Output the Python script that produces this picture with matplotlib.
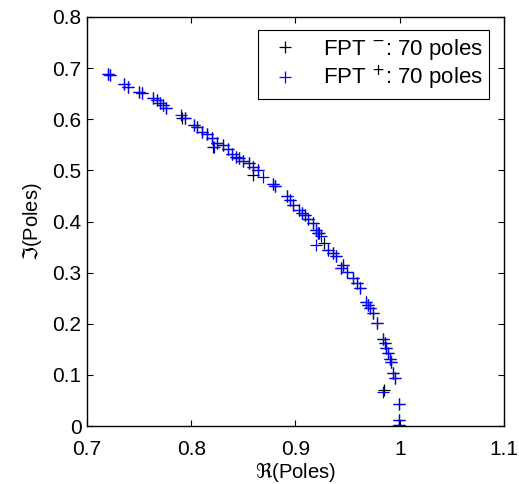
import numpy as np
import matplotlib
matplotlib.use("Agg")
import matplotlib.pyplot as plt

plt.rcParams['font.family'] = ['Liberation Sans', 'DejaVu Sans']
plt.rcParams['mathtext.fontset'] = 'dejavusans'

plus_re = [0.720, 0.722, 0.7355, 0.739, 0.750, 0.753, 0.763, 0.767, 0.770,
           0.773, 0.776, 0.790, 0.794, 0.803, 0.806, 0.810, 0.815, 0.820,
           0.822, 0.825, 0.830, 0.835, 0.839, 0.843, 0.846, 0.850, 0.855,
           0.859, 0.864, 0.869, 0.878, 0.880, 0.892, 0.895, 0.898, 0.903,
           0.906, 0.909, 0.912, 0.917, 0.920, 0.922, 0.924, 0.920, 0.931,
           0.936, 0.939, 0.946, 0.944, 0.949, 0.955, 0.959, 0.962, 0.968,
           0.970, 0.971, 0.974, 0.978, 0.984, 0.986, 0.987, 0.989, 0.991,
           0.992, 0.994, 0.995, 0.984, 0.999, 0.999, 0.9996]
plus_im = [0.689, 0.686, 0.669, 0.664, 0.654, 0.652, 0.642, 0.637, 0.632,
           0.628, 0.622, 0.609, 0.603, 0.588, 0.584, 0.576, 0.571, 0.563,
           0.545, 0.553, 0.549, 0.541, 0.532, 0.527, 0.524, 0.519, 0.514,
           0.507, 0.501, 0.488, 0.474, 0.470, 0.449, 0.442, 0.432, 0.423,
           0.417, 0.413, 0.404, 0.398, 0.384, 0.377, 0.372, 0.354, 0.344,
           0.338, 0.333, 0.315, 0.309, 0.302, 0.289, 0.279, 0.269, 0.243,
           0.237, 0.230, 0.222, 0.201, 0.170, 0.162, 0.152, 0.142, 0.132,
           0.126, 0.103, 0.093, 0.066, 0.044, 0.012, 0.002]

minus_re = [0.720, 0.722, 0.7355, 0.739, 0.750, 0.753, 0.763, 0.767, 0.770,
            0.773, 0.776, 0.791, 0.794, 0.803, 0.806, 0.810, 0.815, 0.820,
            0.821, 0.825, 0.830, 0.835, 0.839, 0.843, 0.846, 0.850, 0.855,
            0.859, 0.864, 0.859, 0.878, 0.880, 0.892, 0.895, 0.898, 0.903,
            0.906, 0.909, 0.912, 0.917, 0.920, 0.922, 0.923, 0.927, 0.931,
            0.936, 0.939, 0.946, 0.944, 0.949, 0.955, 0.959, 0.962, 0.968,
            0.970, 0.971, 0.974, 0.978, 0.984, 0.986, 0.987, 0.989, 0.991,
            0.992, 0.994, 0.995, 0.985, 0.999, 0.999, 0.9996]
minus_im = [0.689, 0.686, 0.669, 0.664, 0.654, 0.652, 0.642, 0.637, 0.632,
            0.628, 0.622, 0.603, 0.603, 0.588, 0.584, 0.576, 0.571, 0.563,
            0.546, 0.553, 0.549, 0.541, 0.532, 0.527, 0.524, 0.519, 0.514,
            0.507, 0.501, 0.491, 0.474, 0.470, 0.449, 0.442, 0.432, 0.423,
            0.417, 0.413, 0.404, 0.398, 0.384, 0.377, 0.378, 0.358, 0.344,
            0.338, 0.333, 0.315, 0.309, 0.302, 0.289, 0.279, 0.269, 0.243,
            0.237, 0.230, 0.222, 0.201, 0.170, 0.162, 0.152, 0.142, 0.132,
            0.126, 0.103, 0.093, 0.070, 0.044, 0.012, 0.002]

xticks = [0.7, 0.8, 0.9, 1.0, 1.1]
xlabels = ['0.7', '0.8', '0.9', '1', '1.1']
yticks = [0, 0.1, 0.2, 0.3, 0.4, 0.5, 0.6, 0.7, 0.8]
ylabels = ['0', '0.1', '0.2', '0.3', '0.4', '0.5', '0.6', '0.7', '0.8']

fig = plt.figure(figsize=(5.19, 4.84), dpi=100)
ax = fig.add_axes([0.1676, 0.1198, 0.8035, 0.8451])

ax.plot(minus_re, minus_im, '+', color='k', ms=9, mew=0.9,
        label=r'FPT $^{-}$: 70 poles')
ax.plot(plus_re, plus_im, '+', color='b', ms=9, mew=0.9,
        label=r'FPT $^{+}$: 70 poles')

ax.set_xlim(0.7, 1.1)
ax.set_ylim(0, 0.8)
ax.set_xticks(xticks)
ax.set_xticklabels(xlabels)
ax.set_yticks(yticks)
ax.set_yticklabels(ylabels)
ax.tick_params(direction='in', top=True, right=True, labelsize=15, length=4)
ax.tick_params(axis='x', pad=10)
ax.tick_params(axis='y', pad=4)
for s in ax.spines.values():
    s.set_linewidth(1.0)

ax.set_xlabel(r'$\Re$(Poles)', fontsize=14.5, labelpad=1)
ax.set_ylabel(r'$\Im$(Poles)', fontsize=14.5, labelpad=6)

leg = ax.legend(loc='upper right', bbox_to_anchor=(0.964, 0.968),
                borderaxespad=0, fancybox=False, framealpha=1,
                edgecolor='k', fontsize=16, handlelength=1.8,
                handletextpad=0.8, labelspacing=0.1, borderpad=0.3)
leg.get_frame().set_linewidth(0.8)

fig.savefig('out.png', dpi=100)
